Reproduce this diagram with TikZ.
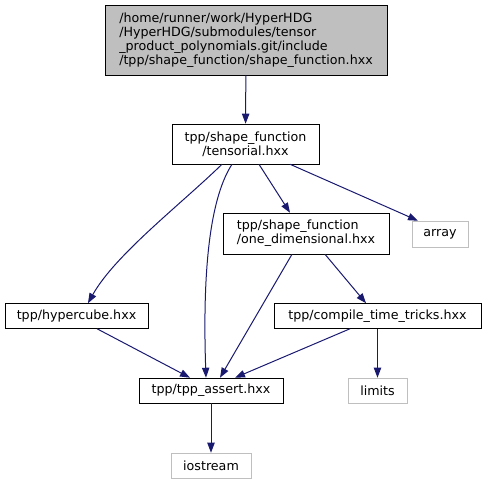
\documentclass[tikz,border=0pt]{standalone}
\usepackage{fontspec}
\setmainfont{DejaVu Sans}
\usepackage{xcolor}
\usetikzlibrary{arrows.meta}

\definecolor{edgeblue}{HTML}{191970}
\definecolor{boxgray}{HTML}{BFBFBF}

\tikzset{
  file/.style={draw=black, fill=white, inner sep=1pt, minimum height=18.75pt, font=\fontsize{9.5}{10.6}\selectfont},
  extfile/.style={file, draw=boxgray},
  dep/.style={draw=edgeblue, line width=0.75pt, -{Triangle[length=7.5pt,width=5.5pt]}}
}

\begin{document}
\begin{tikzpicture}[x=0.75pt,y=-0.75pt]
\useasboundingbox (0,0) rectangle (487,484);

\node[file, fill=boxgray, align=left, minimum width=211.5pt, minimum height=52.5pt] (1) at (246,40) {/home/runner/work/HyperHDG\\/HyperHDG/submodules/tensor\\\_product\_polynomials.git/include\\/tpp/shape\_function/shape\_function.hxx};

\node[file, align=center, minimum width=110pt, minimum height=30pt] (2) at (245.5,144) {tpp/shape\_function\\/tensorial.hxx};

\node[file, align=left, minimum width=124.5pt, minimum height=30.75pt] (3) at (306,233.5) {tpp/shape\_function\\/one\_dimensional.hxx};

\node[extfile, minimum width=42pt, minimum height=19.5pt] (4) at (440,234) {array};

\node[file, minimum width=107pt] (5) at (76.5,316) {tpp/hypercube.hxx};

\node[file, minimum width=155pt] (6) at (377.5,316) {tpp/compile\_time\_tricks.hxx};

\node[file, minimum width=108pt] (7) at (211,390.5) {tpp/tpp\_assert.hxx};

\node[extfile, minimum width=44pt] (8) at (377.5,390.5) {limits};

\node[extfile, minimum width=60pt] (9) at (211,465.5) {iostream};

\draw[dep] (1) -- (2);
\draw[dep] ([xshift=-17.6pt]2.south) .. controls (180,205) and (115,255) .. ([xshift=8.6pt]5.north);
\draw[dep] ([xshift=-10.1pt]2.south) .. controls (212,195) and (202,260) .. ([xshift=-3.75pt]7.north);
\draw[dep] ([xshift=10.1pt]2.south) -- ([xshift=-12pt]3.north);
\draw[dep] ([xshift=33.4pt]2.south) -- ([xshift=-16.5pt]4.north);
\draw[dep] ([xshift=-10.5pt]3.south) -- ([xshift=6.75pt]7.north);
\draw[dep] ([xshift=14.25pt]3.south) -- ([xshift=-8.6pt]6.north);
\draw[dep] ([xshift=15.4pt]5.south) -- ([xshift=-15.75pt]7.north);
\draw[dep] ([xshift=-20.6pt]6.south) -- ([xshift=18pt]7.north);
\draw[dep] (6) -- (8);
\draw[dep] (7) -- (9);
\end{tikzpicture}
\end{document}
